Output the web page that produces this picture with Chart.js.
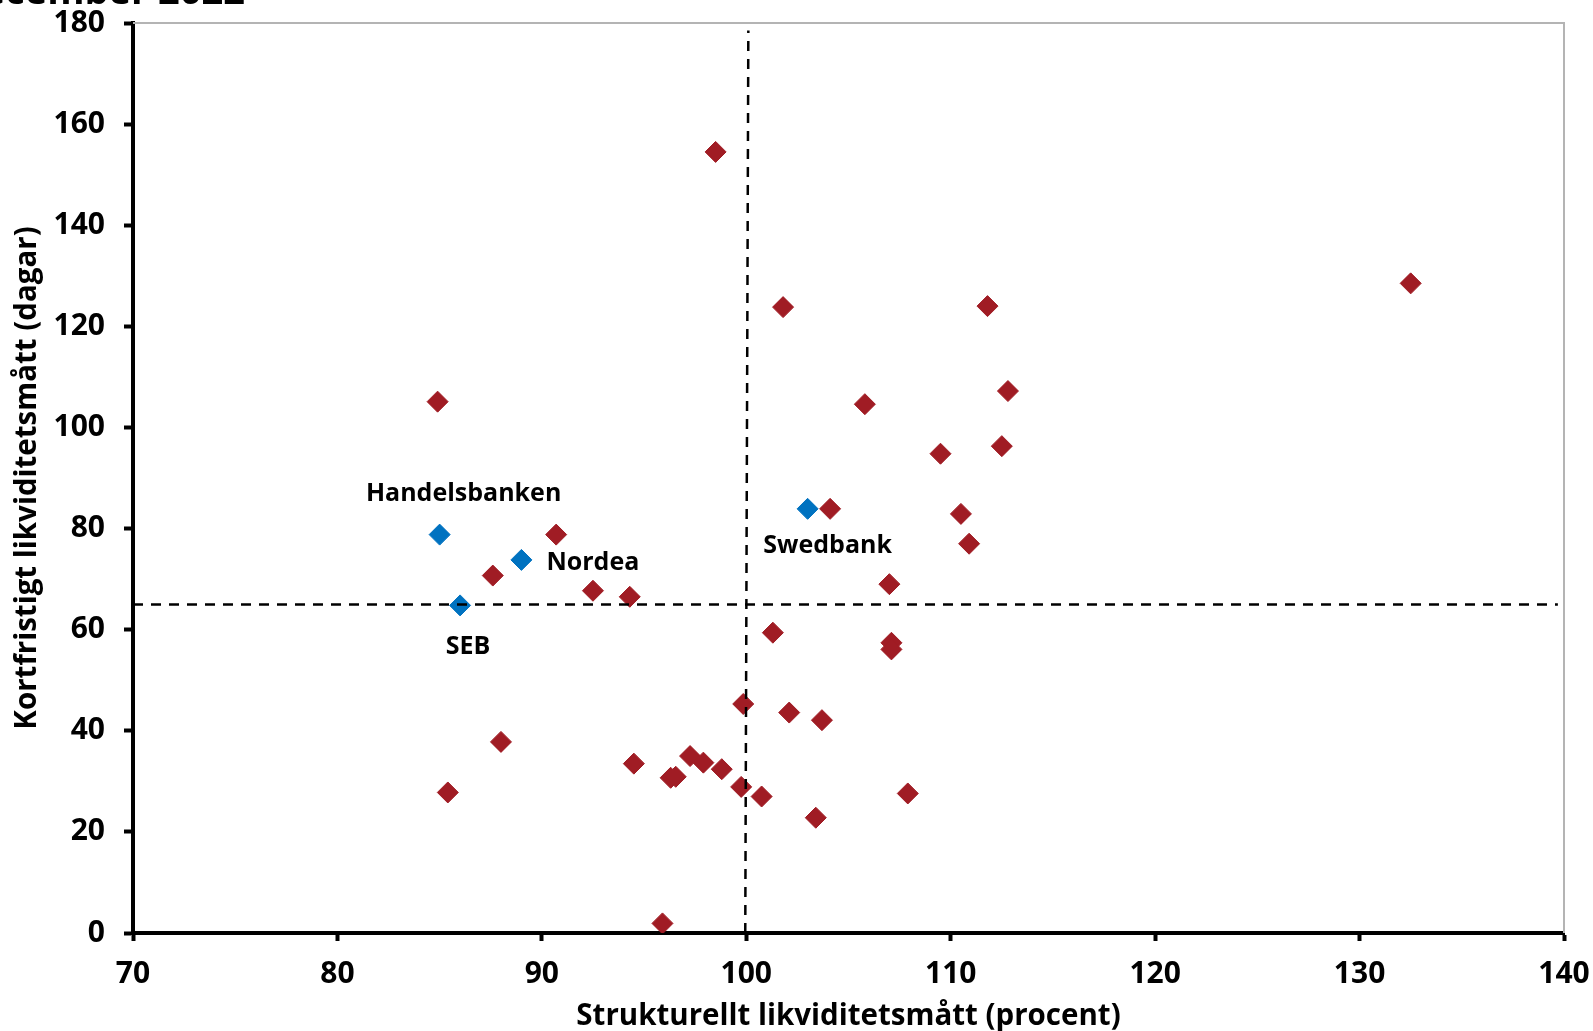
<!DOCTYPE html>
<html>
<head>
<meta charset="utf-8">
<script src="https://cdn.jsdelivr.net/npm/chart.js@4.4.0/dist/chart.umd.min.js"></script>
<style>
	html, body { margin: 0; padding: 0; background: #fff; }
	canvas { display: block; }
</style>
</head>
<body>
<canvas id="myChart" width="1593" height="1031"></canvas>
<script>
	// övriga banker
	const otherX = [98.5, 132.5, 101.8, 111.8, 84.9, 105.8, 112.8, 112.5, 109.5, 104.1, 110.5, 110.9,
		90.7, 87.6, 92.5, 94.3, 107.0, 101.3, 107.1, 107.1, 99.85, 102.1, 103.7, 88.0,
		94.5, 97.25, 97.9, 98.8, 96.3, 96.55, 99.75, 100.75, 85.4, 107.9, 103.4, 95.9];
	const otherY = [154.5, 128.5, 123.8, 124.0, 105.1, 104.6, 107.2, 96.3, 94.8, 83.9, 82.9, 77.0,
		78.8, 70.7, 67.7, 66.5, 69.0, 59.4, 57.4, 56.1, 45.3, 43.6, 42.1, 37.8,
		33.5, 35.0, 33.7, 32.4, 30.7, 30.9, 28.9, 27.0, 27.8, 27.6, 22.8, 1.9];

	// storbankerna
	const bankNames = ['Handelsbanken', 'Nordea', 'SEB', 'Swedbank'];
	const bankX = [85.0, 89.0, 86.0, 103.0];
	const bankY = [78.8, 73.8, 64.8, 83.9];

	// referenslinjer
	const refX = 100;
	const refY = 65;

	const xTicks = [70, 80, 90, 100, 110, 120, 130, 140];
	const yTicks = [0, 20, 40, 60, 80, 100, 120, 140, 160, 180];

	const FONT = "'Open Sans', 'Noto Sans', sans-serif";
	const RED = '#A01C24';
	const BLUE = '#0072C0';

	const toPoints = (xs, ys) => xs.map((x, i) => ({ x: x, y: ys[i] }));

	// label placement for the big four (pixels from the marker)
	const labelPos = {
		'Handelsbanken': { dx: 24, dy: -41, align: 'center' },
		'Nordea': { dx: 25, dy: 3, align: 'left' },
		'SEB': { dx: 8, dy: 41, align: 'center' },
		'Swedbank': { dx: 20, dy: 37, align: 'center' }
	};

	const bankLabels = {
		id: 'bankLabels',
		afterDatasetsDraw(chart) {
			const meta = chart.getDatasetMeta(1);
			const ctx = chart.ctx;
			ctx.save();
			ctx.font = "bold 25px " + FONT;
			ctx.fillStyle = '#000';
			ctx.textBaseline = 'middle';
			meta.data.forEach(function(el, i) {
				const p = labelPos[bankNames[i]];
				ctx.textAlign = p.align;
				ctx.fillText(bankNames[i], el.x + p.dx, el.y + p.dy);
			});
			ctx.restore();
		}
	};

	const frame = {
		id: 'frame',
		beforeDatasetsDraw(chart) {
			const a = chart.chartArea;
			const ctx = chart.ctx;
			ctx.save();
			ctx.strokeStyle = '#b4b4b4';
			ctx.lineWidth = 2;
			ctx.beginPath();
			ctx.moveTo(a.left, a.top);
			ctx.lineTo(a.right, a.top);
			ctx.lineTo(a.right, a.bottom);
			ctx.stroke();
			ctx.restore();
		}
	};

	// title is cut off at the top of the picture
	const cutTitle = {
		id: 'cutTitle',
		afterDraw(chart) {
			const ctx = chart.ctx;
			ctx.save();
			ctx.font = "bold 38px " + FONT;
			ctx.fillStyle = '#000';
			ctx.textAlign = 'right';
			ctx.textBaseline = 'alphabetic';
			ctx.fillText('december 2022', 245, 4);
			ctx.restore();
		}
	};

	// keep the tick label padding from shrinking the plot area
	const trimPadding = (s) => {
		s.paddingTop = 0;
		s.paddingBottom = 0;
		s.paddingLeft = 0;
		s.paddingRight = 0;
	};

	const tickFont = { family: FONT, size: 30, weight: 'bold' };
	const titleFont = { family: FONT, size: 29.5, weight: 'bold', lineHeight: 1 };

	const config = {
		type: 'scatter',
		data: {
			datasets: [{
				label: 'Övriga banker',
				data: toPoints(otherX, otherY),
				pointStyle: 'rectRot',
				pointRadius: 10.5,
				backgroundColor: RED,
				borderColor: RED,
				borderWidth: 1,
				order: 2
			}, {
				label: 'Storbanker',
				data: toPoints(bankX, bankY),
				pointStyle: 'rectRot',
				pointRadius: 10.5,
				backgroundColor: BLUE,
				borderColor: BLUE,
				borderWidth: 1,
				order: 1
			}, {
				type: 'line',
				label: 'v',
				data: [{ x: refX - 0.05, y: 0 }, { x: refX + 0.1, y: 178.5 }],
				borderColor: '#000',
				borderWidth: 2.5,
				borderDash: [10, 8],
				pointRadius: 0,
				fill: false,
				order: 0
			}, {
				type: 'line',
				label: 'h',
				data: [{ x: 70, y: refY }, { x: 139.7, y: refY }],
				borderColor: '#000',
				borderWidth: 2.5,
				borderDash: [10, 8],
				pointRadius: 0,
				fill: false,
				order: 0
			}]
		},
		options: {
			responsive: false,
			animation: false,
			layout: { padding: { left: 0, right: 29, top: 23, bottom: 0 } },
			plugins: {
				legend: { display: false },
				tooltip: { enabled: false }
			},
			scales: {
				x: {
					type: 'linear',
					min: 70,
					max: 140,
					afterBuildTicks: (s) => { s.ticks = xTicks.map(v => ({ value: v })); },
					afterFit: (s) => { s.height = 98; trimPadding(s); },
					ticks: { color: '#000', font: tickFont, padding: 15 },
					grid: { drawOnChartArea: false, drawTicks: true, tickLength: 8, tickWidth: 4, tickColor: '#000' },
					border: { color: '#000', width: 4 },
					title: { display: true, text: 'Strukturellt likviditetsmått (procent)', color: '#000', font: titleFont, padding: 0 }
				},
				y: {
					type: 'linear',
					min: 0,
					max: 180,
					afterBuildTicks: (s) => { s.ticks = yTicks.map(v => ({ value: v })); },
					afterFit: (s) => { s.width = 133; trimPadding(s); },
					ticks: { color: '#000', font: tickFont, padding: 19 },
					grid: { drawOnChartArea: false, drawTicks: true, tickLength: 9, tickWidth: 4, tickColor: '#000' },
					border: { color: '#000', width: 4 },
					title: { display: true, text: 'Kortfristigt likviditetsmått (dagar)', color: '#000', font: titleFont, padding: { top: 13, bottom: 0 } }
				}
			}
		},
		plugins: [frame, bankLabels, cutTitle]
	};

	const myChart = new Chart(document.getElementById('myChart'), config);
</script>
</body>
</html>
